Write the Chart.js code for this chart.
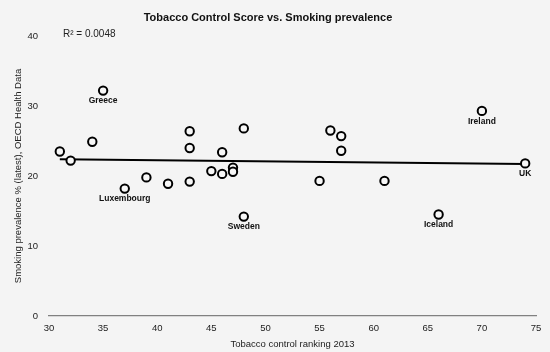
<!DOCTYPE html>
<html>
<head>
<meta charset="utf-8">
<script src="https://cdn.jsdelivr.net/npm/chart.js@4/dist/chart.umd.min.js"></script>
<style>
  html, body { margin: 0; padding: 0; background: #f4f4f4; }
  #wrap { width: 550px; height: 352px; }
</style>
</head>
<body>
<div id="wrap"><canvas id="chart" width="550" height="352"></canvas></div>
<script>
// Tobacco control ranking 2013 (x) vs smoking prevalence % (y)
const rankings = [31, 32, 34, 35, 37, 39, 41, 43, 43, 43, 45, 46, 46, 47, 47, 48, 48, 55, 56, 57, 57, 61, 66, 70, 74];
const prevalence = [23.5, 22.2, 24.9, 32.2, 18.2, 19.8, 18.9, 19.2, 26.4, 24.0, 20.7, 20.3, 23.4, 21.2, 20.6, 26.8, 14.2, 19.3, 26.5, 25.7, 23.6, 19.3, 14.5, 29.3, 21.8];
const countryNames = ['', '', '', 'Greece', 'Luxembourg', '', '', '', '', '', '', '', '', '', '', '', 'Sweden', '', '', '', '', '', 'Iceland', 'Ireland', 'UK'];

// trend line endpoints as drawn
const trendX = [31, 74];
const trendY = [22.4, 21.7];

const xTicks = [30, 35, 40, 45, 50, 55, 60, 65, 70, 75];
const yTicks = [0, 10, 20, 30, 40];
const rSquared = 'R² = 0.0048';

const FONT = 'Helvetica, "Liberation Sans", Arial, sans-serif';

// labels under named points + R² text
const pointLabels = {
    id: 'pointLabels',
    afterDatasetsDraw(chart) {
        const ctx = chart.ctx;
        const xs = chart.scales.x, ys = chart.scales.y;
        ctx.save();
        ctx.fillStyle = '#111';
        ctx.font = 'bold 8.5px ' + FONT;
        ctx.textAlign = 'center';
        ctx.textBaseline = 'middle';
        rankings.forEach((r, i) => {
            if (!countryNames[i]) return;
            ctx.fillText(countryNames[i], xs.getPixelForValue(r), ys.getPixelForValue(prevalence[i]) + 10.5);
        });
        ctx.font = '10px ' + FONT;
        ctx.textAlign = 'left';
        ctx.fillStyle = '#222';
        ctx.fillText(rSquared, chart.chartArea.left + 14, chart.chartArea.top - 2);
        ctx.restore();
    }
};

new Chart(document.getElementById('chart'), {
    type: 'scatter',
    data: {
        datasets: [{
            label: 'Countries',
            data: rankings.map((r, i) => ({ x: r, y: prevalence[i] })),
            pointRadius: 4.2,
            pointHoverRadius: 4.2,
            borderWidth: 2,
            borderColor: '#000',
            backgroundColor: '#f7f7f7',
            order: 1
        }, {
            label: 'Trend',
            data: trendX.map((x, i) => ({ x: x, y: trendY[i] })),
            showLine: true,
            pointRadius: 0,
            borderColor: '#000',
            borderWidth: 2,
            order: 2
        }]
    },
    options: {
        responsive: false,
        animation: false,
        layout: { padding: { left: 0, right: 14, top: 0, bottom: 0 } },
        plugins: {
            legend: { display: false },
            tooltip: { enabled: false },
            title: {
                display: true,
                text: 'Tobacco Control Score vs. Smoking prevalence',
                color: '#111',
                font: { family: FONT, size: 11, weight: 'bold', lineHeight: 1.2 },
                padding: { top: 11, bottom: 11.8 }
            }
        },
        scales: {
            x: {
                type: 'linear',
                min: 30,
                max: 75,
                afterBuildTicks: s => { s.ticks = xTicks.map(v => ({ value: v })); },
                afterFit: s => { s.height = 36; },
                grid: { display: false, drawTicks: false },
                border: { display: true, color: '#808080', width: 1.2 },
                ticks: { color: '#222', padding: 7, font: { family: FONT, size: 9.5 } },
                title: {
                    display: true,
                    text: 'Tobacco control ranking 2013',
                    color: '#222',
                    font: { family: FONT, size: 9.5 },
                    padding: { top: 2, bottom: 2 }
                }
            },
            y: {
                type: 'linear',
                min: 0,
                max: 40,
                afterBuildTicks: s => { s.ticks = yTicks.map(v => ({ value: v })); },
                afterFit: s => { s.width = 49; },
                grid: { display: false, drawTicks: false },
                border: { display: false },
                ticks: { color: '#222', padding: 11, font: { family: FONT, size: 9.5 } },
                title: {
                    display: true,
                    text: 'Smoking prevalence % (latest), OECD Health Data',
                    color: '#222',
                    font: { family: FONT, size: 9.5 },
                    padding: { top: 13, bottom: 0 }
                }
            }
        }
    },
    plugins: [pointLabels]
});
</script>
</body>
</html>
